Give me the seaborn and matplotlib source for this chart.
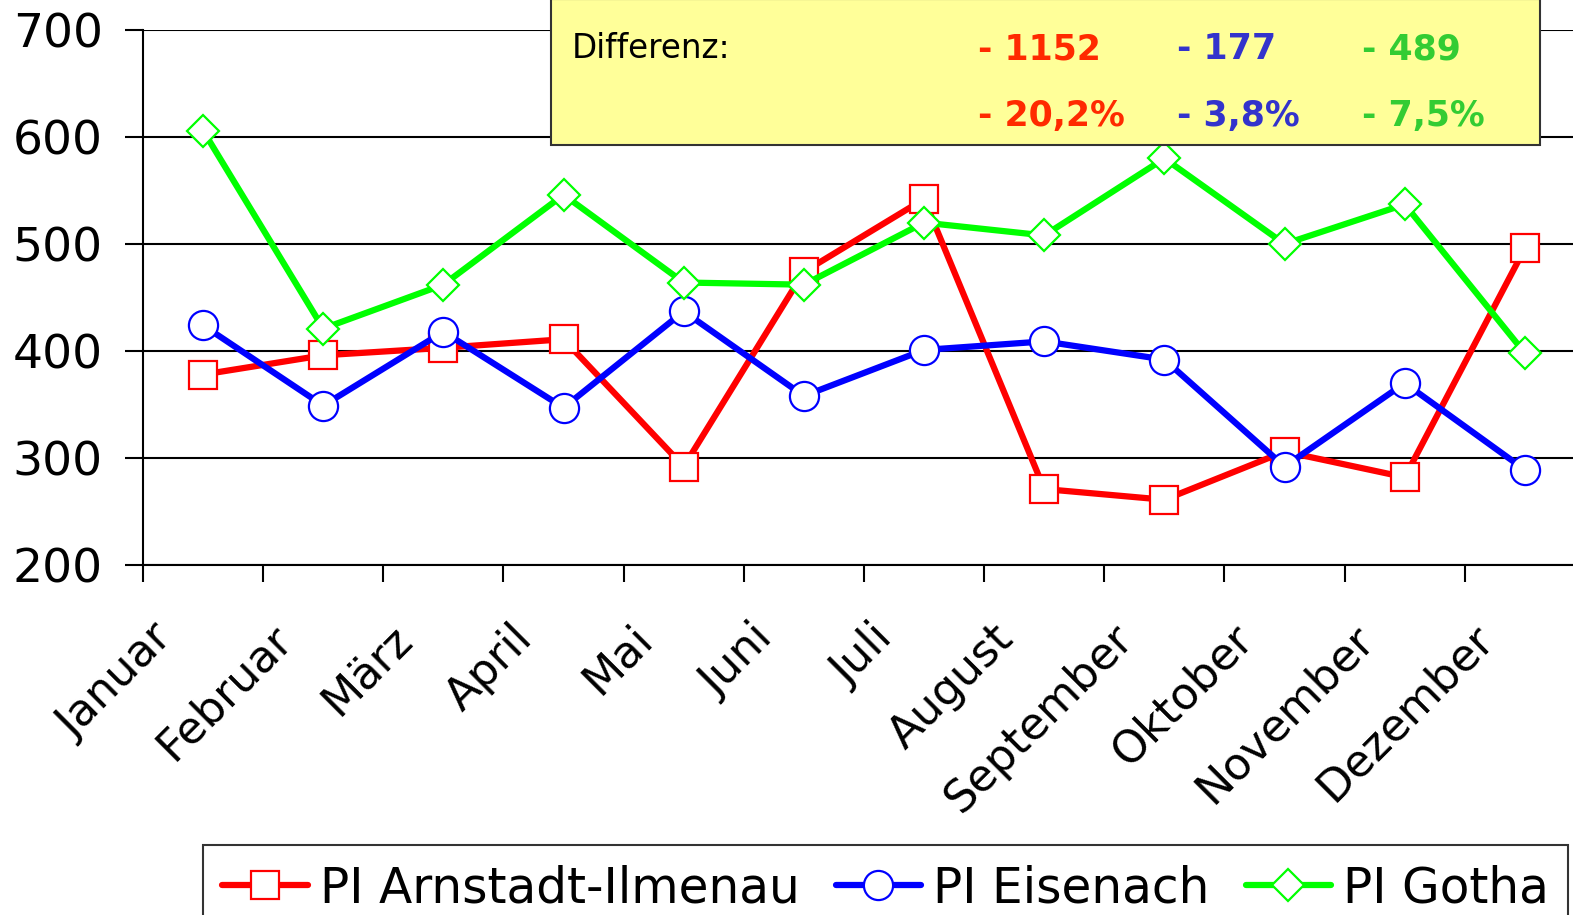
import matplotlib
matplotlib.use("Agg")
import matplotlib.pyplot as plt
import matplotlib.transforms as mtransforms
from matplotlib.patches import Rectangle
import seaborn as sns
import pandas as pd

months = ["Januar", "Februar", "März", "April", "Mai", "Juni", "Juli",
          "August", "September", "Oktober", "November", "Dezember"]
arnstadt = [378, 396, 403, 411, 292, 474, 542, 271, 261, 306, 282, 496]
eisenach = [424, 349, 418, 347, 437, 358, 401, 409, 392, 292, 370, 289]
gotha = [606, 421, 462, 546, 464, 462, 520, 508, 580, 500, 537, 398]
series_names = ["PI Arnstadt-Ilmenau", "PI Eisenach", "PI Gotha"]
diff_abs = ["- 1152", "- 177", "- 489"]
diff_pct = ["- 20,2%", "- 3,8%", "- 7,5%"]

sns.set_theme(style="white")
plt.rcParams['font.family'] = ['DejaVu Sans']

W, H = 1573, 915
fig = plt.figure(figsize=(W / 100, H / 100), dpi=100)
left, right = 143 / W, 1585 / W
bottom, top = 1 - 565 / H, 1 - 30 / H
ax = fig.add_axes([left, bottom, right - left, top - bottom])

df = pd.DataFrame({"Monat": months * 3,
                   "idx": list(range(12)) * 3,
                   "Wert": arnstadt + eisenach + gotha,
                   "Serie": [series_names[0]] * 12 + [series_names[1]] * 12 + [series_names[2]] * 12})

colors = ["#FF0000", "#0000FF", "#00FF00"]
markers = ["s", "o", "D"]
msizes = [20, 21, 16]
for name, c, m, ms in zip(series_names, colors, markers, msizes):
    sub = df[df["Serie"] == name]
    sns.lineplot(data=sub, x="idx", y="Wert", ax=ax, color=c, linewidth=4.5,
                 marker=m, markersize=ms, markerfacecolor="white",
                 markeredgecolor=c, markeredgewidth=1.6, label=name,
                 legend=False, zorder=3)

ax.set_xlim(-0.5, 11.5)
ax.set_ylim(200, 700)
ax.set_yticks([200, 300, 400, 500, 600, 700])
ax.set_xlabel("")
ax.set_ylabel("")
ax.grid(axis="y", color="black", linewidth=1.5)
ax.grid(axis="x", visible=False)
for s in ["top", "right"]:
    ax.spines[s].set_visible(False)
for s in ["left", "bottom"]:
    ax.spines[s].set_color("black")
    ax.spines[s].set_linewidth(1.5)
ax.set_facecolor("white")

ax.tick_params(axis="y", which="major", length=13, width=1.5, color="black",
               labelsize=34, pad=16, labelcolor="black", left=True, direction="out")
ax.set_xticks(range(12))
ax.set_xticklabels(months)
ax.set_xticks([i - 0.5 for i in range(12)], minor=True)
ax.tick_params(axis="x", which="major", length=0, labelsize=32, pad=48,
               labelcolor="black")
ax.tick_params(axis="x", which="minor", length=12, width=1.5, color="black",
               bottom=True, direction="out")
offset = mtransforms.ScaledTranslation(-38 / 100, 0, fig.dpi_scale_trans)
for lab in ax.get_xticklabels():
    lab.set_rotation(45)
    lab.set_ha("right")
    lab.set_va("center")
    lab.set_rotation_mode("anchor")
    lab.set_transform(lab.get_transform() + offset)

# Annotation box
box = Rectangle((551 / W, 1 - 145 / H), (1540 - 551) / W, 146 / H,
                transform=fig.transFigure, facecolor="#FFFF99",
                edgecolor="#333333", linewidth=1.5, zorder=10)
fig.patches.append(box)
fig.text(572 / W, 1 - 49 / H, "Differenz:", fontsize=23.5, color="black",
         va="center", ha="left", zorder=11)
txt_colors = ["#FF2A00", "#3333CC", "#33CC33"]
xs = [978, 1177, 1362]
for x, a, p, c in zip(xs, diff_abs, diff_pct, txt_colors):
    fig.text(x / W, 1 - 49 / H, a, fontsize=25, fontweight="bold", color=c,
             va="center", ha="left", zorder=11)
    fig.text(x / W, 1 - 116 / H, p, fontsize=25, fontweight="bold", color=c,
             va="center", ha="left", zorder=11)

handles, labels = ax.get_legend_handles_labels()
leg = fig.legend(handles, labels, loc="upper left",
                 bbox_to_anchor=(203 / W, 1 - 845 / H), ncol=3, fontsize=35,
                 frameon=True, fancybox=False, edgecolor="black",
                 handlelength=1.75, handletextpad=0.25, columnspacing=0.75,
                 borderpad=0.4, borderaxespad=0)
leg.get_frame().set_linewidth(1.5)
for t in leg.get_texts():
    t.set_color("black")

fig.savefig("out.png", dpi=100)
